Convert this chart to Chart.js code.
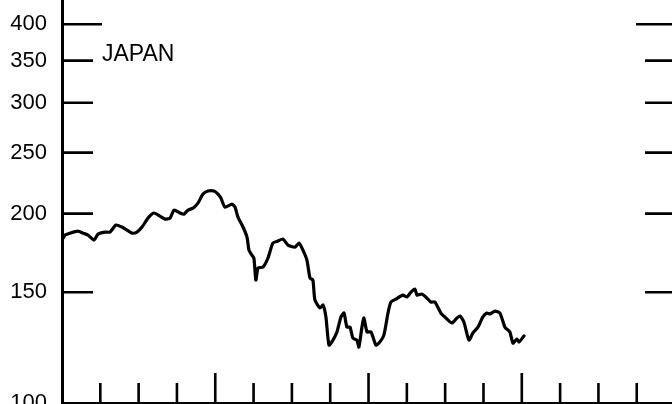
<!DOCTYPE html>
<html lang="en">

<head>
  <title>Japan</title>
  <meta charset="UTF-8">
  <script src="https://cdn.jsdelivr.net/npm/chart.js@4.4.1/dist/chart.umd.min.js"></script>
  <style>
    body { margin: 0; background: #fff; }
  </style>
</head>

<body>
  <canvas id="myChart" width="672" height="404"></canvas>
  <script>
    // time in years from the start of the series, and the index level
    const years = [0, 0.020, 0.052, 0.104, 0.137, 0.170, 0.209, 0.235, 0.280, 0.313, 0.352, 0.391, 0.424, 0.457, 0.489,
      0.522, 0.561, 0.600, 0.639, 0.672, 0.705, 0.731, 0.770, 0.796, 0.822, 0.855, 0.887, 0.920, 0.952, 0.992,
      1.018, 1.037, 1.063, 1.109, 1.129, 1.148, 1.181, 1.207, 1.220, 1.239, 1.252, 1.265, 1.279, 1.311, 1.344,
      1.376, 1.409, 1.442, 1.474, 1.520, 1.546, 1.572, 1.598, 1.618, 1.637, 1.650, 1.683, 1.703, 1.722, 1.742,
      1.768, 1.794, 1.820, 1.840, 1.859, 1.879, 1.898, 1.924, 1.937, 1.957, 1.970, 1.990, 2.016, 2.048, 2.068,
      2.100, 2.127, 2.146, 2.179, 2.224, 2.251, 2.277, 2.303, 2.316, 2.348, 2.381, 2.407, 2.433, 2.472, 2.498,
      2.544, 2.577, 2.596, 2.622, 2.655, 2.681, 2.714, 2.746, 2.772, 2.792, 2.825, 2.857, 2.890, 2.922, 2.942,
      2.968, 2.981, 3.014];
    const japan = [181.5, 184.9, 186.2, 187.6, 186.2, 184.9, 181.5, 185.5, 186.9, 186.9, 191.8, 190.4, 188.3, 186.2, 186.9,
      190.4, 196.7, 200.4, 198.2, 196.0, 196.7, 202.6, 200.4, 199.6, 202.6, 204.0, 207.8, 214.8, 217.2, 217.2,
      214.8, 211.7, 204.8, 207.1, 204.8, 197.4, 190.4, 183.5, 175.0, 171.8, 170.0, 156.8, 163.9, 164.4, 170.0,
      179.6, 180.9, 182.2, 178.2, 176.9, 179.6, 175.0, 168.7, 158.0, 156.8, 145.8, 141.6, 143.1, 137.0, 123.6,
      125.9, 129.7, 137.0, 139.0, 132.0, 132.0, 126.8, 125.9, 122.7, 132.0, 136.5, 129.7, 129.7, 123.6, 124.5,
      128.2, 139.0, 144.7, 146.3, 148.4, 147.4, 150.1, 151.7, 148.4, 149.0, 146.8, 144.7, 144.7, 139.0, 137.0,
      134.0, 136.5, 137.5, 134.5, 125.9, 129.2, 132.0, 137.0, 139.0, 138.5, 140.0, 139.0, 132.0, 129.7, 124.5,
      126.4, 125.0, 127.8];
    const yTicks = [100, 150, 200, 250, 300, 350, 400, 450];
    const quarters = [0.25, 0.5, 0.75, 1, 1.25, 1.5, 1.75, 2, 2.25, 2.5, 2.75, 3, 3.25, 3.5, 3.75];
    const seriesLabel = "JAPAN";

    const font = "'Liberation Sans', Arial, sans-serif";

    // inward tick marks on the left, right and bottom, plus the panel label
    const frameTicks = {
      id: 'frameTicks',
      afterDraw(chart) {
        const { ctx, chartArea: a, scales: { x, y } } = chart;
        ctx.save();
        ctx.strokeStyle = '#000';
        ctx.lineWidth = 2.6;
        ctx.beginPath();
        yTicks.forEach(v => {
          if (v <= 100 || v > y.max) return;
          const py = y.getPixelForValue(v);
          ctx.moveTo(a.left, py);
          ctx.lineTo(a.left + (v === 400 ? 40 : 31), py);
          ctx.moveTo(a.right, py);
          ctx.lineTo(a.right - (v === 400 ? 36 : 27), py);
        });
        quarters.forEach(q => {
          const px = x.getPixelForValue(q);
          ctx.moveTo(px, a.bottom);
          ctx.lineTo(px, a.bottom - (q % 1 === 0 ? 30 : 20));
        });
        ctx.stroke();
        ctx.lineWidth = 2;
        ctx.beginPath();
        ctx.moveTo(a.left, a.bottom);
        ctx.lineTo(a.right, a.bottom);
        ctx.stroke();

        ctx.fillStyle = '#000';
        ctx.font = '23px ' + font;
        ctx.textBaseline = 'middle';
        ctx.fillText(seriesLabel, a.left + 40, y.getPixelForValue(350) - 6);
        ctx.restore();
      }
    };

    new Chart("myChart", {
      type: "line",
      data: {
        datasets: [{
          label: seriesLabel,
          data: years.map((t, i) => ({ x: t, y: japan[i] })),
          borderColor: "#000",
          borderWidth: 3.2,
          borderJoinStyle: 'round',
          borderCapStyle: 'round',
          pointRadius: 0,
          tension: 0.2,
          fill: false
        }]
      },
      options: {
        responsive: false,
        animation: false,
        layout: { padding: { left: 0, right: 0, top: 0, bottom: 1 } },
        plugins: {
          legend: { display: false },
          tooltip: { enabled: false }
        },
        scales: {
          x: {
            type: 'linear',
            display: false,
            min: 0,
            max: 3.98
          },
          y: {
            type: 'logarithmic',
            min: 100,
            max: 437,
            grid: { display: false, drawTicks: false },
            border: { display: true, color: '#000', width: 3 },
            ticks: {
              color: '#000',
              font: { family: font, size: 22 },
              padding: 15,
              autoSkip: false,
              callback: value => String(value)
            },
            afterBuildTicks: function (scale) {
              scale.ticks = yTicks.map(value => ({ value: value }));
            },
            afterFit: function (scale) {
              scale.width = 62;
              scale.paddingTop = 0;
              scale.paddingBottom = 0;
            }
          }
        }
      },
      plugins: [frameTicks]
    });
  </script>
</body>

</html>
